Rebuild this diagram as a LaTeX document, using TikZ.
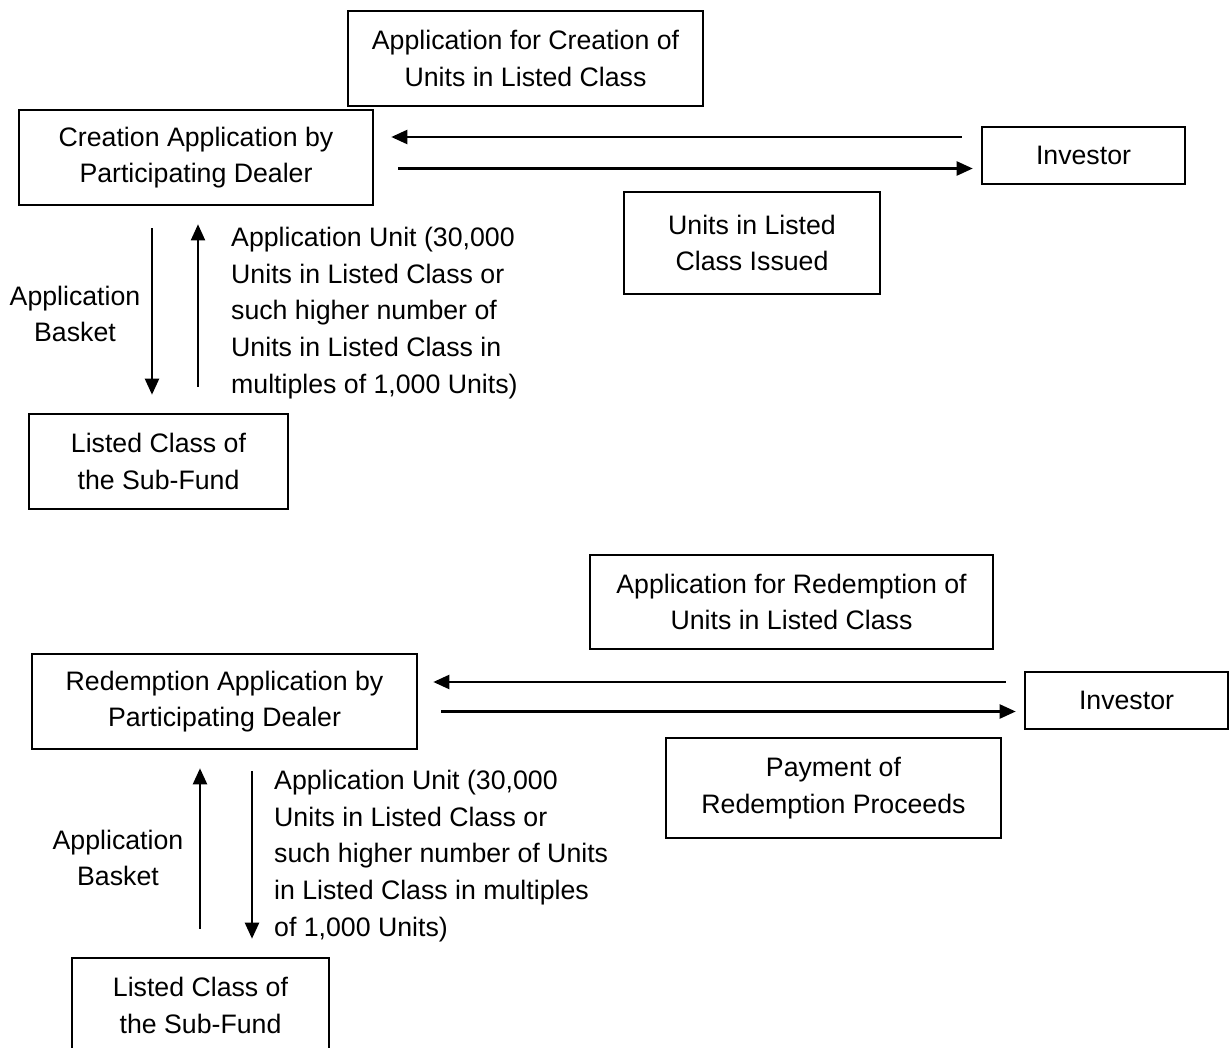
\documentclass[tikz,border=0pt]{standalone}
\usepackage{fontspec}
\setmainfont{Liberation Sans}
\usetikzlibrary{arrows.meta}
\begin{document}
\begin{tikzpicture}[x=1pt,y=-1pt,
  font=\fontsize{26.7}{36.8}\selectfont,
  box/.style={draw, line width=2.6pt, align=center, inner sep=0pt, minimum width=#1},
  lbl/.style={align=left, anchor=west, inner sep=0pt},
  arr/.style={line width=2.3pt, -{Triangle[length=16pt,width=14pt]}}]
\useasboundingbox (0,0) rectangle (1230,1048);
\clip (0,0) rectangle (1230,1048);
% top section
\node[box=355pt, minimum height=95pt] (appc) at (525.5,58.5) {Application for Creation of\\Units in Listed Class};
\node[box=354pt, minimum height=95pt] (cad) at (196,157.5) {Creation Application by\\Participating Dealer};
\node[box=203pt, minimum height=57pt] (inv1) at (1083.5,155.5) {Investor};
\node[box=256pt, minimum height=102pt] (uli) at (752,243) {Units in Listed\\Class Issued};
\node[box=259pt, minimum height=95pt] (lst1) at (158.5,461.5) {Listed Class of\\the Sub-Fund};
\node[align=center, inner sep=0pt] (bask1) at (75,314) {Application\\Basket};
\node[lbl] (unit1) at (231,313) {Application Unit (30,000\\Units in Listed Class or\\such higher number of\\Units in Listed Class in\\multiples of 1,000 Units)};
\draw[arr, shorten <=19pt, shorten >=17pt] (inv1.west |- 0,137) -- (cad.east |- 0,137);
\draw[arr, shorten <=24pt, shorten >=8pt] (cad.east |- 0,168.5) -- (inv1.west |- 0,168.5);
\draw[arr, shorten <=22pt, shorten >=18pt] (cad.south -| 152,0) -- (lst1.north -| 152,0);
\draw[arr, line width=1.9pt, shorten <=26pt, shorten >=18pt] (lst1.north -| 198,0) -- (cad.south -| 198,0);
% bottom section
\node[box=403pt, minimum height=94pt] (appr) at (791.5,602) {Application for Redemption of\\Units in Listed Class};
\node[box=385pt, minimum height=95pt] (rad) at (224.5,701.5) {Redemption Application by\\Participating Dealer};
\node[box=203pt, minimum height=57pt] (inv2) at (1126.5,700.5) {Investor};
\node[box=335pt, minimum height=100pt] (pay) at (833.5,788) {Payment of\\Redemption Proceeds};
\node[box=257pt, minimum height=95pt] (lst2) at (200.5,1005.5) {Listed Class of\\the Sub-Fund};
\node[align=center, inner sep=0pt] (bask2) at (118,858) {Application\\Basket};
\node[lbl] (unit2) at (274,856) {Application Unit (30,000\\Units in Listed Class or\\such higher number of Units\\in Listed Class in multiples\\of 1,000 Units)};
\draw[arr, shorten <=18pt, shorten >=15pt] (inv2.west |- 0,682) -- (rad.east |- 0,682);
\draw[arr, shorten <=23pt, shorten >=8pt] (rad.east |- 0,711.5) -- (inv2.west |- 0,711.5);
\draw[arr, shorten <=28pt, shorten >=18pt] (lst2.north -| 200,0) -- (rad.south -| 200,0);
\draw[arr, shorten <=21pt, shorten >=18pt] (rad.south -| 252,0) -- (lst2.north -| 252,0);
\end{tikzpicture}
\end{document}
